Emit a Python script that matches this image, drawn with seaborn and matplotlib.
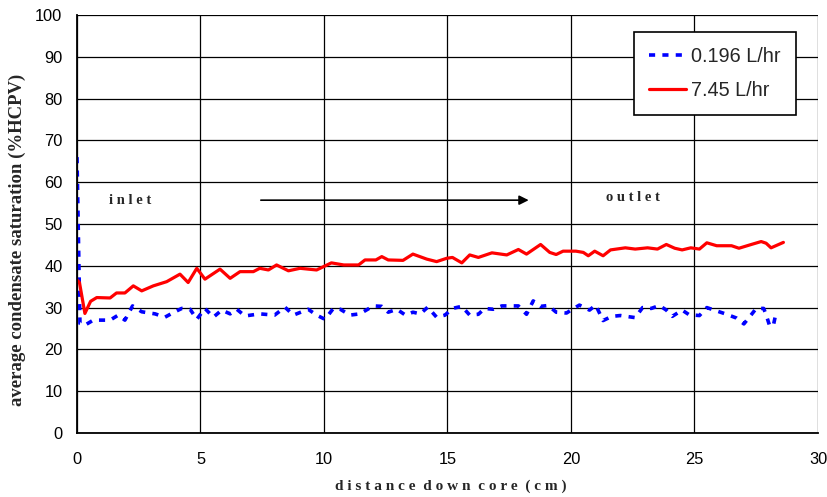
import matplotlib
matplotlib.use("Agg")
import matplotlib.pyplot as plt
import seaborn as sns
import pandas as pd

# 0.196 L/hr run
blue_x = [0, 0.12, 0.32, 0.66, 1.34, 1.67, 1.94, 2.25, 2.62, 3.16, 3.56, 3.9, 4.24, 4.58,
          4.85, 5.18, 5.52, 5.86, 6.2, 6.47, 6.8, 7.4, 8.0, 8.42, 8.76, 9.36, 9.7, 10.04,
          10.38, 10.66, 11.05, 11.45, 12.0, 12.34, 12.6, 12.95, 13.3, 13.6, 13.9, 14.2,
          14.56, 14.9, 15.2, 15.58, 15.9, 16.25, 16.5, 16.85, 17.2, 17.6, 17.87, 18.2,
          18.47, 18.77, 19.08, 19.4, 19.82, 20.0, 20.34, 20.75, 21.0, 21.3, 21.65, 22.0,
          22.6, 22.9, 23.25, 23.58, 23.86, 24.1, 24.5, 24.78, 25.2, 25.5, 25.9, 26.3,
          26.7, 27.0, 27.3, 27.5, 27.8, 27.9, 28.05, 28.2, 28.3]
blue_y = [66, 26.2, 25.8, 27.0, 27.0, 28.2, 27.0, 30.4, 29.0, 28.5, 27.7, 28.8, 29.8, 29.6,
          27.2, 29.8, 27.7, 29.4, 28.5, 29.6, 28.0, 28.5, 28.2, 30.1, 28.2, 29.6, 28.2, 27.2,
          29.8, 29.6, 28.2, 28.5, 30.4, 30.3, 28.9, 29.6, 28.2, 28.9, 28.5, 30.1,
          27.7, 28.2, 29.8, 30.3, 28.2, 28.4, 29.8, 29.6, 30.4, 30.4, 30.4, 28.4,
          31.6, 30.3, 30.5, 28.9, 28.7, 29.4, 30.6, 29.4, 30.6, 26.9, 27.9, 28.1,
          27.6, 30.0, 29.8, 30.5, 29.4, 27.9, 29.4, 28.3, 28.1, 30.0, 29.2, 28.4,
          27.5, 26.1, 28.3, 29.8, 29.8, 28.3, 25.5, 25.9, 28.7]

# 7.45 L/hr run
red_x = [0, 0.1, 0.32, 0.55, 0.8, 1.34, 1.6, 1.94, 2.28, 2.62, 3.09, 3.63, 4.17, 4.5, 4.85,
         5.18, 5.79, 6.2, 6.6, 7.14, 7.4, 7.75, 8.08, 8.56, 9.03, 9.7, 10.3, 10.8, 11.4,
         11.66, 12.1, 12.34, 12.6, 13.2, 13.6, 14.16, 14.56, 14.97, 15.2, 15.58, 15.9,
         16.25, 16.8, 17.4, 17.87, 18.2, 18.77, 19.14, 19.4, 19.68, 20.2, 20.5, 20.7,
         20.96, 21.3, 21.6, 22.2, 22.6, 23.1, 23.5, 23.86, 24.2, 24.5, 24.85, 25.2, 25.5,
         25.9, 26.5, 26.8, 27.3, 27.7, 27.9, 28.1, 28.6]
red_y = [36.6, 36.0, 28.6, 31.5, 32.4, 32.3, 33.5, 33.5, 35.2, 34.0, 35.2, 36.2, 38.0, 36.0, 39.4,
         36.8, 39.2, 37.0, 38.6, 38.6, 39.4, 39.0, 40.2, 38.8, 39.4, 39.0, 40.7, 40.2, 40.2,
         41.4, 41.4, 42.2, 41.4, 41.3, 42.8, 41.6, 41.0, 41.8, 42.0, 40.7, 42.6,
         42.0, 43.1, 42.6, 43.9, 42.8, 45.1, 43.2, 42.7, 43.5, 43.5, 43.2, 42.4,
         43.5, 42.4, 43.8, 44.3, 44.0, 44.3, 44.0, 45.1, 44.2, 43.8, 44.3, 44.0, 45.5,
         44.8, 44.8, 44.2, 45.1, 45.8, 45.4, 44.3, 45.6]

labels = ["0.196 L/hr", "7.45 L/hr"]

sns.set_style("white")
plt.rcParams['font.family'] = ['Liberation Sans', 'DejaVu Sans']

fig = plt.figure(figsize=(8.27, 4.97), dpi=100)
ax = fig.add_axes([0.0931, 0.1288, 0.8960, 0.8410])

df_blue = pd.DataFrame({"x": blue_x, "y": blue_y})
df_red = pd.DataFrame({"x": red_x, "y": red_y})

sns.lineplot(data=df_blue, x="x", y="y", ax=ax, sort=False, color="#0000ff",
             lw=2.6, label=labels[0])
sns.lineplot(data=df_red, x="x", y="y", ax=ax, sort=False, color="#ff0000",
             lw=2.3, label=labels[1])
ax.lines[0].set_dashes([1.7, 2.0])
ax.lines[0].set_dash_capstyle("butt")

ax.set_xlim(0, 30)
ax.set_ylim(0, 100)
ax.set_xticks(range(0, 31, 5))
ax.set_yticks(range(0, 101, 10))
ax.grid(True, color="black", lw=0.9)
ax.set_axisbelow(True)
for s in ["top", "right"]:
    ax.spines[s].set_visible(False)
for s in ["left", "bottom"]:
    ax.spines[s].set_color("black")
    ax.spines[s].set_linewidth(1.3)
ax.tick_params(direction="inout", length=7, width=1, colors="black", labelsize=11.8)
ax.tick_params(axis="x", pad=10)
ax.tick_params(axis="y", pad=7)

serif = ['Liberation Serif', 'DejaVu Serif']
ax.set_xlabel("d i s t a n c e  d o w n  c o r e  ( c m )", family=serif,
              fontweight="bold", fontsize=11)
ax.set_ylabel("average condensate saturation (%HCPV)", family=serif,
              fontweight="bold", fontsize=13.5)
ax.xaxis.set_label_coords(0.504, -0.112)
ax.yaxis.set_label_coords(-0.069, 0.462)

ax.text(2.15, 55.7, "i n l e t", family=serif, fontweight="bold", fontsize=10.5,
        ha="center", va="center")
ax.text(22.5, 56.3, "o u t l e t", family=serif, fontweight="bold", fontsize=10.5,
        ha="center", va="center")
ax.annotate("", xy=(18.4, 55.7), xytext=(7.33, 55.7),
            arrowprops=dict(arrowstyle="-|>", color="black", lw=1.2, mutation_scale=14))

leg = ax.legend(loc="upper right", bbox_to_anchor=(0.970, 0.959), borderaxespad=0,
                fontsize=14.3, frameon=True, fancybox=False, edgecolor="black",
                framealpha=1, handlelength=1.9, labelspacing=0.75, borderpad=0.75,
                handletextpad=0.25)
leg.get_frame().set_linewidth(1.2)

fig.savefig("out.png", dpi=100)
